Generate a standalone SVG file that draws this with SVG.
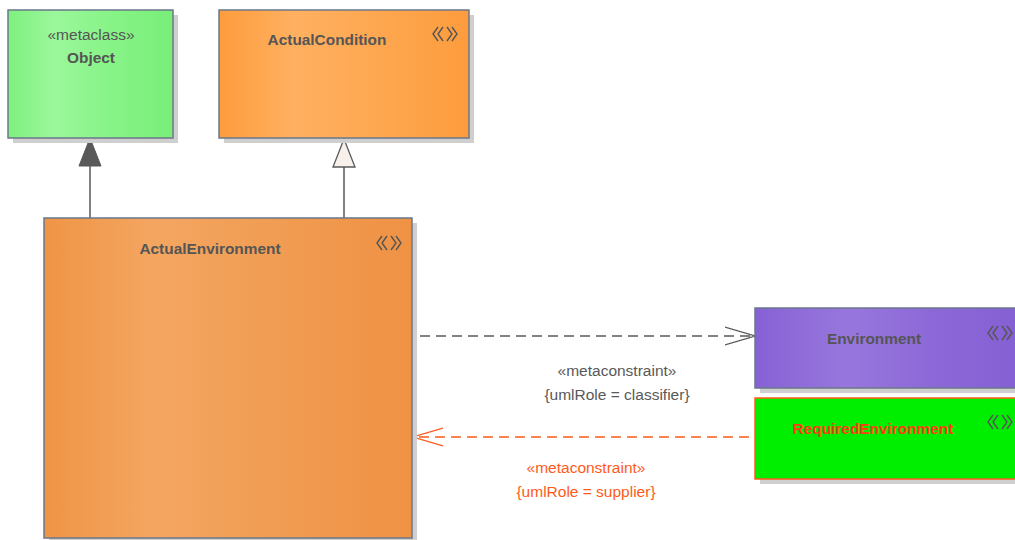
<svg xmlns="http://www.w3.org/2000/svg" width="1015" height="540" viewBox="0 0 1015 540">
<defs>
<linearGradient id="gObj" x1="0" y1="0" x2="1" y2="0"><stop offset="0" stop-color="#7ef07e"/><stop offset="0.28" stop-color="#9bf79b"/><stop offset="0.6" stop-color="#88f488"/><stop offset="1" stop-color="#78ee78"/></linearGradient>
<linearGradient id="gCond" x1="0" y1="0" x2="1" y2="0"><stop offset="0" stop-color="#fd9c3d"/><stop offset="0.3" stop-color="#ffb060"/><stop offset="0.6" stop-color="#fea852"/><stop offset="1" stop-color="#fd9c3d"/></linearGradient>
<linearGradient id="gEnvA" x1="0" y1="0" x2="1" y2="0"><stop offset="0" stop-color="#ef9445"/><stop offset="0.3" stop-color="#f4a661"/><stop offset="0.6" stop-color="#f19d54"/><stop offset="1" stop-color="#ef9244"/></linearGradient>
<linearGradient id="gEnv" x1="0" y1="0" x2="1" y2="0"><stop offset="0" stop-color="#8661d5"/><stop offset="0.35" stop-color="#9877dd"/><stop offset="0.7" stop-color="#8b67d7"/><stop offset="1" stop-color="#8460d4"/></linearGradient>
<marker id="open" viewBox="0 0 30 20" refX="30" refY="10" markerWidth="30" markerHeight="20" markerUnits="userSpaceOnUse" orient="auto"><path d="M0,1 L30,10 L0,19" fill="none" stroke="context-stroke" stroke-width="1.3"/></marker>
</defs>
<style>
.shadow{fill:#cfcfcf}
.box{stroke:#6b778a;stroke-width:1.5}
.name{font-family:"Liberation Sans",Arial,sans-serif;font-weight:bold;font-size:15.4px;fill:#555555;text-anchor:middle}
.st{font-family:"Liberation Sans",Arial,sans-serif;font-size:15.5px;fill:#555555;text-anchor:middle}
.icon{fill:none;stroke:#555555;stroke-width:1.4}
.lbl{font-family:"Liberation Sans",Arial,sans-serif;font-size:15.5px;text-anchor:middle}
</style>
<g id="connectors">
<line x1="90" y1="218" x2="90" y2="166" stroke="#595959" stroke-width="1.5"/>
<polygon points="90,138 79,166 101,166" fill="#595959" stroke="#595959" stroke-width="1"/>
<line x1="344" y1="218" x2="344" y2="167" stroke="#595959" stroke-width="1.5"/>
<polygon points="344,139 333,167 355,167" fill="#f8f0ea" stroke="#595959" stroke-width="1.3"/>
<line x1="420" y1="336" x2="755" y2="336" stroke="#595959" stroke-width="1.5" stroke-dasharray="10,6" marker-end="url(#open)"/>
<line x1="749" y1="437" x2="413" y2="437" stroke="#ff5a1a" stroke-width="1.5" stroke-dasharray="10,6" marker-end="url(#open)"/>
<text class="lbl" x="617" y="376" fill="#595959">«metaconstraint»</text>
<text class="lbl" x="617" y="400" fill="#595959">{umlRole = classifier}</text>
<text class="lbl" x="586" y="473" fill="#ff5a1a">«metaconstraint»</text>
<text class="lbl" x="586" y="497" fill="#ff5a1a">{umlRole = supplier}</text>
</g>
<g id="Object">
<rect class="shadow" x="13" y="15" width="165" height="128"/>
<rect class="box" x="8" y="10" width="165" height="128" fill="url(#gObj)"/>
<text class="st" x="91" y="40">«metaclass»</text>
<text class="name" x="91" y="63">Object</text>
</g>
<g id="ActualCondition">
<rect class="shadow" x="224" y="15" width="250" height="128"/>
<rect class="box" x="219" y="10" width="250" height="128" fill="url(#gCond)"/>
<text class="name" x="327" y="45">ActualCondition</text>
<path class="icon" d="M438,27 L433,34 L438,41 M443,27 L438,34 L443,41 M447,27 L452,34 L447,41 M452,27 L457,34 L452,41"/>
</g>
<g id="ActualEnvironment">
<rect class="shadow" x="49" y="223" width="368" height="317"/>
<rect class="box" x="44" y="218" width="368" height="320" fill="url(#gEnvA)"/>
<text class="name" x="210" y="254">ActualEnvironment</text>
<path class="icon" d="M382,236 L377,243 L382,250 M387,236 L382,243 L387,250 M391,236 L396,243 L391,250 M396,236 L401,243 L396,250"/>
</g>
<g id="Environment">
<rect class="shadow" x="760" y="313" width="260" height="80"/>
<rect class="box" x="755" y="308" width="265" height="80" fill="url(#gEnv)"/>
<text class="name" x="874" y="344">Environment</text>
<path class="icon" d="M993,326 L988,333 L993,340 M998,326 L993,333 L998,340 M1002,326 L1007,333 L1002,340 M1007,326 L1012,333 L1007,340"/>
</g>
<g id="RequiredEnvironment">
<rect class="shadow" x="760" y="403" width="260" height="81"/>
<rect x="755" y="398" width="265" height="81" fill="#00ee00" stroke="#ff5a1a" stroke-width="1.5"/>
<text class="name" x="873" y="434" style="fill:#ff3a10">RequiredEnvironment</text>
<path class="icon" d="M993,415 L988,422 L993,429 M998,415 L993,422 L998,429 M1002,415 L1007,422 L1002,429 M1007,415 L1012,422 L1007,429"/>
</g>
</svg>
